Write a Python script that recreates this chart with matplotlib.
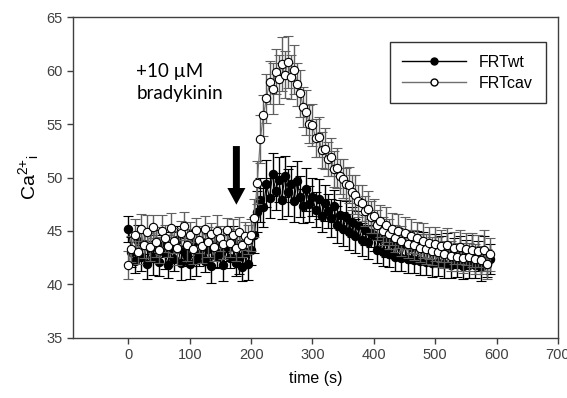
import matplotlib
matplotlib.use("Agg")
import matplotlib.pyplot as plt
from matplotlib.lines import Line2D

# time points (s)
time_s = list(range(0, 595, 5))

wt_mean = [
    45.2, 43.0, 42.2, 44.1, 42.6, 43.8, 41.9, 43.4, 42.5, 44.0,
    42.1, 43.6, 42.9, 41.8, 43.5, 42.4, 44.2, 42.0, 43.1, 42.7,
    41.9, 43.9, 42.3, 42.8, 44.0, 42.2, 43.3, 41.7, 43.7, 42.6,
    42.9, 41.8, 43.4, 42.5, 44.1, 42.0, 42.6, 41.6, 42.9, 41.9,
    43.2, 44.6, 46.8, 47.9, 47.2, 49.4, 48.1, 50.3, 48.7, 49.8,
    47.9, 50.1, 48.6, 49.4, 47.8, 49.7, 48.2, 47.3, 48.9, 47.5,
    48.2, 47.0, 48.0, 46.4, 47.6, 46.9, 46.2, 47.3, 45.6, 46.5,
    45.2, 46.3, 44.9, 45.8, 44.5, 45.6, 44.2, 45.1, 44.0, 44.8,
    44.6, 43.2, 44.3, 43.0, 44.1, 42.8, 43.9, 42.6, 43.8, 42.5,
    43.7, 42.4, 43.5, 42.3, 43.6, 42.2, 43.4, 42.1, 43.3, 42.0,
    43.2, 42.0, 43.1, 41.9, 43.3, 41.8, 42.9, 42.0, 43.0, 41.7,
    42.8, 41.9, 43.1, 41.8, 42.7, 41.6, 42.9, 41.9, 42.4,
]
wt_err = [
    1.2, 1.4, 1.1, 1.5, 1.3, 1.0, 1.4, 1.2, 1.6, 1.1,
    1.3, 1.0, 1.5, 1.2, 1.4, 1.1, 1.3, 1.6, 1.2, 1.0,
    1.4, 1.2, 1.5, 1.1, 1.3, 1.0, 1.4, 1.6, 1.2, 1.1,
    1.3, 1.5, 1.2, 1.0, 1.4, 1.2, 1.6, 1.3, 1.1, 1.5,
    1.4, 1.7, 1.9, 2.1, 1.8, 2.2, 1.9, 2.0, 1.7, 2.1,
    1.8, 1.9, 2.2, 1.7, 2.0, 1.8, 1.9, 1.6, 2.0, 1.7,
    1.8, 1.6, 1.9, 1.5, 1.7, 1.6, 1.8, 1.5, 1.7, 1.4,
    1.6, 1.5, 1.7, 1.4, 1.6, 1.3, 1.5, 1.4, 1.6, 1.3,
    1.5, 1.2, 1.4, 1.3, 1.5, 1.2, 1.4, 1.3, 1.5, 1.2,
    1.4, 1.3, 1.5, 1.2, 1.4, 1.3, 1.5, 1.2, 1.4, 1.3,
    1.5, 1.2, 1.4, 1.3, 1.5, 1.2, 1.4, 1.3, 1.5, 1.2,
    1.4, 1.3, 1.5, 1.2, 1.4, 1.3, 1.6, 1.2, 1.4,
]

cav_mean = [
    41.8, 43.3, 44.6, 43.0, 45.2, 43.7, 44.9, 43.5, 45.4, 44.0,
    43.2, 45.0, 44.3, 43.6, 45.3, 44.1, 43.4, 44.8, 45.5, 43.7,
    44.6, 43.3, 45.1, 44.2, 43.6, 45.2, 44.0, 44.7, 43.5, 45.0,
    44.3, 43.8, 45.1, 43.9, 44.6, 43.4, 44.9, 43.7, 44.5, 44.2,
    44.6, 46.2, 49.5, 53.6, 55.8, 57.4, 58.9, 58.3, 59.9, 59.2,
    60.6, 59.6, 60.8, 59.4, 60.1, 58.7, 57.9, 56.6, 56.1, 55.0,
    54.9, 53.7, 53.8, 52.6, 52.7, 51.7, 51.9, 50.8, 50.9, 50.1,
    49.9, 49.4, 49.3, 48.6, 48.4, 47.8, 47.6, 46.9, 47.1, 46.3,
    46.4, 45.6, 45.9, 45.0, 45.6, 44.7, 45.2, 44.3, 45.0, 44.1,
    44.8, 43.8, 44.5, 43.7, 44.3, 43.4, 44.1, 43.3, 43.9, 43.1,
    43.8, 43.0, 43.6, 42.8, 43.7, 42.7, 43.4, 42.6, 43.5, 42.5,
    43.3, 42.6, 43.2, 42.4, 43.1, 42.3, 43.2, 41.9, 42.8,
]
cav_err = [
    1.3, 1.2, 1.5, 1.1, 1.4, 1.2, 1.6, 1.3, 1.1, 1.4,
    1.2, 1.5, 1.3, 1.0, 1.4, 1.2, 1.6, 1.1, 1.3, 1.5,
    1.2, 1.4, 1.1, 1.3, 1.6, 1.2, 1.4, 1.0, 1.3, 1.5,
    1.2, 1.4, 1.1, 1.3, 1.5, 1.2, 1.4, 1.1, 1.3, 1.4,
    1.5, 1.8, 2.0, 2.2, 1.9, 2.3, 2.0, 2.4, 2.1, 2.3,
    2.5, 2.2, 2.4, 2.1, 2.3, 2.0, 2.2, 1.9, 2.1, 1.8,
    2.0, 1.8, 1.9, 1.7, 1.9, 1.6, 1.8, 1.7, 1.9, 1.6,
    1.8, 1.5, 1.7, 1.6, 1.8, 1.5, 1.7, 1.4, 1.6, 1.5,
    1.6, 1.4, 1.5, 1.3, 1.6, 1.4, 1.5, 1.3, 1.6, 1.4,
    1.5, 1.3, 1.6, 1.4, 1.5, 1.3, 1.6, 1.4, 1.5, 1.3,
    1.6, 1.4, 1.5, 1.3, 1.6, 1.4, 1.5, 1.3, 1.6, 1.4,
    1.5, 1.3, 1.6, 1.4, 1.5, 1.3, 1.9, 1.4, 1.5,
]

series_labels = ["FRTwt", "FRTcav"]
x_ticks = [0, 100, 200, 300, 400, 500, 600, 700]
y_ticks = [35, 40, 45, 50, 55, 60, 65]

plt.rcParams['font.family'] = ['Liberation Sans', 'DejaVu Sans']
plt.rcParams['mathtext.fontset'] = 'custom'
plt.rcParams['mathtext.rm'] = 'Liberation Sans'
plt.rcParams['mathtext.it'] = 'Liberation Sans'

fig = plt.figure(figsize=(5.67, 3.98), dpi=100)
ax = fig.add_axes([0.129, 0.151, 0.855, 0.806])

ax.errorbar(time_s, wt_mean, yerr=wt_err, fmt='-o', color='black',
            ecolor='black', elinewidth=1.0, capsize=3.5, capthick=1.0,
            markersize=6, markerfacecolor='black', markeredgecolor='black',
            markeredgewidth=0.8, linewidth=0.8, zorder=2)
ax.errorbar(time_s, cav_mean, yerr=cav_err, fmt='-o', color='#707070',
            ecolor='#606060', elinewidth=1.0, capsize=3.5, capthick=1.0,
            markersize=6, markerfacecolor='white', markeredgecolor='black',
            markeredgewidth=0.8, linewidth=0.8, zorder=3)

ax.set_xlim(-90, 700)
ax.set_ylim(35, 65)
ax.set_xticks(x_ticks)
ax.set_yticks(y_ticks)
ax.tick_params(direction='out', length=4, width=1, colors='#404040',
               labelsize=10.5, labelcolor='#404040')
for s in ax.spines.values():
    s.set_color('#404040')
    s.set_linewidth(1)

ax.set_xlabel('time (s)', fontsize=11.5, color='black', labelpad=6)
ax.set_ylabel(r'Ca$^{\mathregular{2{+}}}$$_{\mathregular{i}}$', fontsize=14,
              color='black', labelpad=4)

ax.text(13, 60.7, '+10 µM\nbradykinin', fontsize=13.5,
        family=['Lato', 'DejaVu Sans'], va='top', ha='left', linespacing=1.35)
ax.annotate('', xy=(176, 47.2), xytext=(176, 53.2),
            arrowprops=dict(arrowstyle='simple,head_width=1.3,head_length=1.2,tail_width=0.5',
                            color='black', lw=0))

handles = [
    Line2D([], [], color='black', marker='o', markersize=5,
           markerfacecolor='black', markeredgecolor='black', linewidth=1),
    Line2D([], [], color='#707070', marker='o', markersize=5,
           markerfacecolor='white', markeredgecolor='black', linewidth=1),
]
leg = ax.legend(handles, series_labels, loc='upper right',
                bbox_to_anchor=(0.975, 0.922), fontsize=11.5,
                frameon=True, fancybox=False, edgecolor='black',
                handlelength=4, borderpad=0.8, labelspacing=0.35,
                handletextpad=0.8, borderaxespad=0)
leg.get_frame().set_linewidth(1.0)

fig.savefig('out.png', dpi=100)
